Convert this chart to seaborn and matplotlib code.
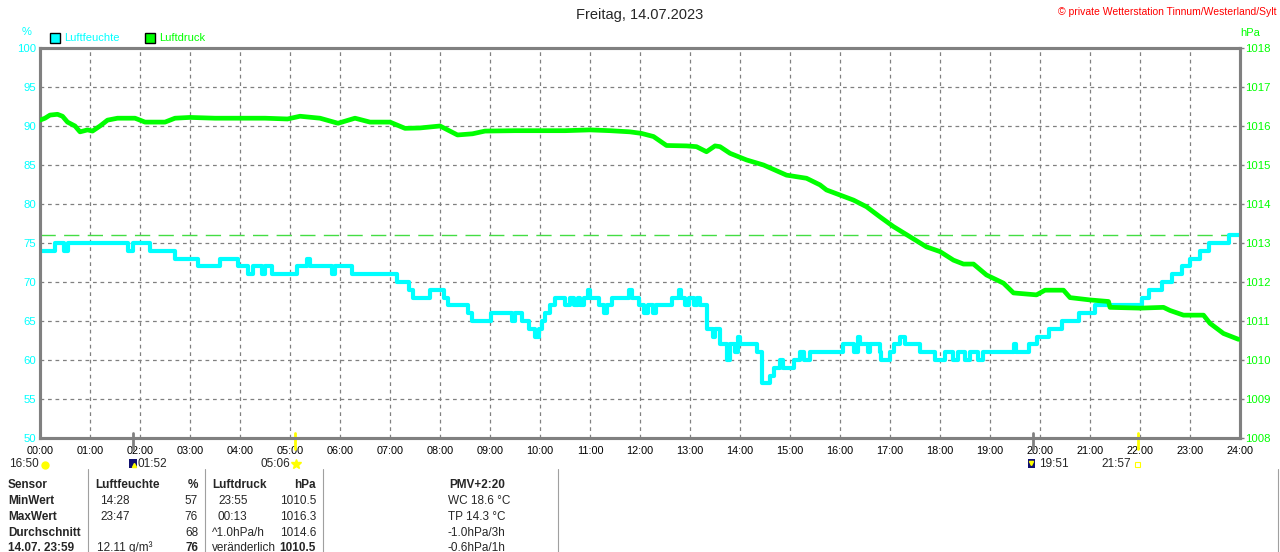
import matplotlib
matplotlib.use("Agg")
import matplotlib.pyplot as plt
from matplotlib.patches import Rectangle
from matplotlib.lines import Line2D
import seaborn as sns
import pandas as pd

# humidity (%), step values: hour at which a level starts
hum_hours = [0, 0.3, 0.48, 0.55, 1.76, 1.85, 2.2, 2.7, 3.16, 3.6, 3.96, 4.16, 4.26, 4.43, 4.5, 4.63,
             5.13, 5.33, 5.4, 5.83, 5.9, 6.23, 7.13, 7.37, 7.45, 7.8, 8.07, 8.16, 8.56, 8.63, 9.03,
             9.43, 9.5, 9.63, 9.77, 9.9, 9.97, 10.03, 10.1, 10.2, 10.3, 10.5, 10.6, 10.68, 10.75,
             10.8, 10.87, 10.96, 11.0, 11.17, 11.27, 11.33, 11.43, 11.78, 11.83, 11.97, 12.07,
             12.15, 12.25, 12.32, 12.63, 12.77, 12.82, 12.9, 12.97, 13.07, 13.13, 13.2, 13.33,
             13.45, 13.5, 13.6, 13.73, 13.8, 13.9, 13.95, 14.0, 14.33, 14.43, 14.6, 14.67, 14.8,
             14.85, 15.07, 15.2, 15.27, 15.4, 16.05, 16.27, 16.35, 16.4, 16.55, 16.6, 16.8, 16.83,
             17.0, 17.07, 17.2, 17.3, 17.6, 17.9, 18.1, 18.25, 18.35, 18.5, 18.6, 18.75, 18.85,
             19.47, 19.52, 19.77, 19.93, 20.17, 20.43, 20.77, 21.1, 22.03, 22.17, 22.43, 22.63,
             22.83, 23.0, 23.2, 23.37, 23.77, 24.0]
hum_values = [74, 75, 74, 75, 74, 75, 74, 73, 72, 73, 72, 71, 72, 71, 72, 71,
              72, 73, 72, 71, 72, 71, 70, 69, 68, 69, 68, 67, 66, 65, 66,
              65, 66, 65, 64, 63, 64, 65, 66, 67, 68, 67, 68, 67, 68,
              67, 68, 69, 68, 67, 66, 67, 68, 69, 68, 67, 66,
              67, 66, 67, 68, 69, 68, 67, 68, 67, 68, 67, 64,
              63, 64, 62, 60, 62, 61, 63, 62, 61, 57, 58, 59, 60,
              59, 60, 61, 60, 61, 62, 61, 63, 62, 61, 62, 61, 60,
              61, 62, 63, 62, 61, 60, 61, 60, 61, 60, 61, 60, 61,
              62, 61, 62, 63, 64, 65, 66, 67, 68, 69, 70, 71,
              72, 73, 74, 75, 76, 76]

# air pressure (hPa)
pres_hours = [0.0, 0.1, 0.2, 0.35, 0.45, 0.55, 0.7, 0.8, 0.95, 1.05, 1.2, 1.35, 1.55, 1.9, 2.1,
              2.5, 2.7, 3.0, 3.5, 4.0, 4.5, 4.95, 5.2, 5.6, 5.96, 6.3, 6.6, 7.0, 7.3, 7.6, 8.0,
              8.35, 8.65, 8.9, 9.5, 10.5, 11.0, 11.4, 11.8, 12.03, 12.27, 12.53, 12.93, 13.13,
              13.33, 13.5, 13.6, 13.8, 14.13, 14.47, 14.93, 15.33, 15.6, 15.73, 16.0, 16.27,
              16.53, 16.8, 17.07, 17.4, 17.73, 18.0, 18.27, 18.47, 18.67, 18.93, 19.27, 19.47,
              19.93, 20.1, 20.47, 20.6, 21.0, 21.37, 21.4, 22.0, 22.47, 22.6, 22.87, 23.27,
              23.4, 23.67, 23.97]
pres_values = [1016.15, 1016.2, 1016.28, 1016.3, 1016.25, 1016.1, 1016.0, 1015.85, 1015.9,
               1015.87, 1016.0, 1016.15, 1016.2, 1016.2, 1016.1, 1016.1, 1016.2, 1016.22,
               1016.2, 1016.2, 1016.2, 1016.18, 1016.25, 1016.2, 1016.07, 1016.2, 1016.1,
               1016.1, 1015.94, 1015.95, 1016.0, 1015.77, 1015.8, 1015.87, 1015.88, 1015.88,
               1015.9, 1015.88, 1015.85, 1015.81, 1015.73, 1015.5, 1015.49, 1015.47, 1015.34,
               1015.49, 1015.47, 1015.3, 1015.13, 1015.0, 1014.74, 1014.66, 1014.49, 1014.36,
               1014.23, 1014.1, 1013.93, 1013.67, 1013.42, 1013.16, 1012.9, 1012.78, 1012.56,
               1012.46, 1012.46, 1012.18, 1011.97, 1011.72, 1011.67, 1011.79, 1011.79, 1011.6,
               1011.54, 1011.5, 1011.35, 1011.33, 1011.35, 1011.27, 1011.15, 1011.15, 1010.94,
               1010.68, 1010.53]

hum_max = 76
x_labels = ["%02d:00" % h for h in range(25)]
hum_ticks = list(range(50, 101, 5))
pres_ticks = list(range(1008, 1019))

# moon / sun events shown under the time axis
event_hours = [1 + 52 / 60, 5 + 6 / 60, 19 + 51 / 60, 21 + 57 / 60]
event_colors = ["#808080", "#ffff00", "#808080", "#ffff00"]

table_header = ["Sensor", "Luftfeuchte", "%", "Luftdruck", "hPa", "PMV+2:20"]
row_names = ["MinWert", "MaxWert", "Durchschnitt", "14.07. 23:59"]
hum_time = ["14:28", "23:47", "", "12.11 g/m³"]
hum_val = ["57", "76", "68", "76"]
pres_time = ["23:55", "00:13", "^1.0hPa/h", "veränderlich"]
pres_val = ["1010.5", "1016.3", "1014.6", "1010.5"]
extra = ["WC 18.6 °C", "TP 14.3 °C", "-1.0hPa/3h", "-0.6hPa/1h"]

CYAN = "#00ffff"
GREEN = "#00ff00"
GRAY = "#808080"
TFS = 8.5  # table font size

sns.set_style("white")
plt.rcParams["font.family"] = ["Liberation Sans", "DejaVu Sans"]

W, H = 1280, 552
fig = plt.figure(figsize=(W / 100, H / 100), dpi=100)


def fx(x):
    return x / W


def fy(y):
    return 1 - y / H


ax = fig.add_axes([fx(40), fy(438), 1200 / W, 390 / H])
ax2 = ax.twinx()

hum_df = pd.DataFrame({"t": hum_hours, "v": hum_values})
pres_df = pd.DataFrame({"t": pres_hours, "v": pres_values})

ax.axhline(hum_max, color="#44dd44", lw=1.0, dashes=(11, 6), zorder=2)
sns.lineplot(data=hum_df, x="t", y="v", ax=ax, color=CYAN, lw=3.0,
             drawstyle="steps-post", zorder=3)
sns.lineplot(data=pres_df, x="t", y="v", ax=ax2, color=GREEN, lw=3.4, zorder=3)

ax.set_xlim(0, 24)
ax.set_ylim(50, 100)
ax2.set_ylim(1008, 1018)
ax.set_xticks(range(25))
ax.set_xticklabels(x_labels)
ax.set_yticks(hum_ticks)
ax2.set_yticks(pres_ticks)
ax.set_xlabel("")
ax.set_ylabel("")
ax2.set_ylabel("")

ax.grid(True, color=GRAY, linestyle=(0, (3, 3)), linewidth=0.9)
ax.tick_params(axis="x", length=0, pad=6, labelsize=7.8, labelcolor="black")
ax.tick_params(axis="y", length=0, pad=3, labelsize=8.2, labelcolor=CYAN)
ax2.tick_params(axis="y", length=3, width=1, color=GRAY, pad=1, labelsize=8.2, labelcolor=GREEN)

for a in (ax, ax2):
    for side in a.spines:
        a.spines[side].set_color(GRAY)
        a.spines[side].set_linewidth(2.2)

for h, c in zip(event_hours, event_colors):
    ax.axvline(h, ymin=-0.027, ymax=0.012, color=c, lw=2.0, clip_on=False, zorder=5)

# headings
fig.text(0.5, fy(15), "Freitag, 14.07.2023", ha="center", va="center", fontsize=10.5)
fig.text(fx(1277), fy(12), "© private Wetterstation Tinnum/Westerland/Sylt", ha="right",
         va="center", fontsize=7.5, color="red")
fig.text(fx(22), fy(32), "%", ha="left", va="center", fontsize=8, color=CYAN)
fig.text(fx(1240), fy(33), "hPa", ha="left", va="center", fontsize=8, color=GREEN)

for x0, label, col in [(50, "Luftfeuchte", CYAN), (145, "Luftdruck", GREEN)]:
    fig.patches.append(Rectangle((fx(x0), fy(43)), 10 / W, 10 / H, transform=fig.transFigure,
                                 facecolor=col, edgecolor="black", lw=1.0))
    fig.text(fx(x0 + 14), fy(38), label, ha="left", va="center", fontsize=8, color=col)

# moon / sun times
fig.text(fx(9), fy(464), "16:50", ha="left", va="center", fontsize=TFS)
fig.add_artist(Line2D([fx(45)], [fy(465)], marker="o", ms=5, color="#ffff00"))
fig.patches.append(Rectangle((fx(129), fy(468)), 8 / W, 9 / H, transform=fig.transFigure,
                             facecolor="#101070", edgecolor="none"))
fig.add_artist(Line2D([fx(134)], [fy(465)], marker="^", ms=3, color="#ffff00"))
fig.text(fx(138), fy(464), "01:52", ha="left", va="center", fontsize=TFS)
fig.text(fx(290), fy(464), "05:06", ha="right", va="center", fontsize=TFS)
fig.add_artist(Line2D([fx(296)], [fy(464)], marker="*", ms=7, color="#ffff00"))
fig.patches.append(Rectangle((fx(1028), fy(468)), 7 / W, 9 / H, transform=fig.transFigure,
                             facecolor="#101070", edgecolor="none"))
fig.add_artist(Line2D([fx(1031)], [fy(463)], marker="v", ms=3, color="#ffff00"))
fig.text(fx(1039), fy(464), "19:51", ha="left", va="center", fontsize=TFS)
fig.text(fx(1131), fy(464), "21:57", ha="right", va="center", fontsize=TFS)
fig.patches.append(Rectangle((fx(1135), fy(467)), 5 / W, 5 / H, transform=fig.transFigure,
                             facecolor="none", edgecolor="#ffff00", lw=0.8))

# table
for xs in [88, 205, 323, 558, 1278]:
    fig.add_artist(Line2D([fx(xs), fx(xs)], [fy(469), fy(552)], color="#a0a0a0", lw=0.8))

row_y = [485, 501, 517, 533, 548]
fig.text(fx(8), fy(row_y[0]), table_header[0], fontsize=TFS, weight="bold", va="center")
fig.text(fx(95), fy(row_y[0]), table_header[1], fontsize=TFS, weight="bold", va="center")
fig.text(fx(198), fy(row_y[0]), table_header[2], fontsize=TFS, weight="bold", va="center", ha="right")
fig.text(fx(212), fy(row_y[0]), table_header[3], fontsize=TFS, weight="bold", va="center")
fig.text(fx(316), fy(row_y[0]), table_header[4], fontsize=TFS, weight="bold", va="center", ha="right")
fig.text(fx(477), fy(row_y[0]), table_header[5], fontsize=TFS, weight="bold", va="center", ha="center")

for i in range(4):
    y = fy(row_y[i + 1])
    last = i == 3
    fig.text(fx(8), y, row_names[i], fontsize=TFS, weight="bold", va="center")
    fig.text(fx(97 if last else 100), y, hum_time[i], fontsize=TFS, va="center")
    fig.text(fx(198), y, hum_val[i], fontsize=TFS, va="center", ha="right",
             weight="bold" if last else "normal")
    fig.text(fx(212 if i >= 2 else 218), y, pres_time[i], fontsize=TFS, va="center")
    fig.text(fx(316), y, pres_val[i], fontsize=TFS, va="center", ha="right",
             weight="bold" if last else "normal")
    fig.text(fx(448), y, extra[i], fontsize=TFS, va="center")

fig.savefig("out.png", dpi=100)
